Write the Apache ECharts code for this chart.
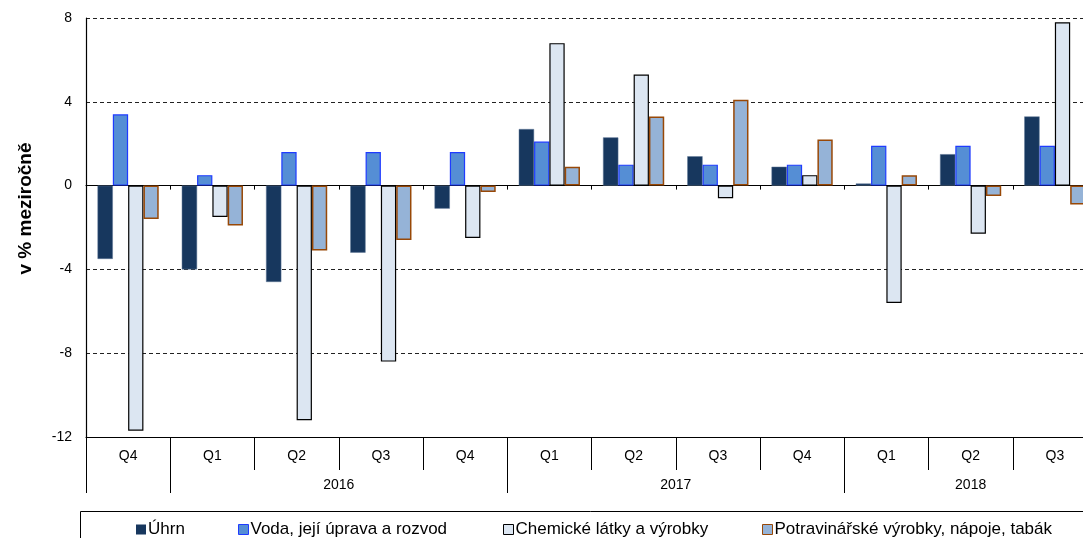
<!DOCTYPE html>
<html>
<head>
<meta charset="utf-8">
<script src="https://cdn.jsdelivr.net/npm/echarts@6/dist/echarts.min.js"></script>
<style>html,body{margin:0;padding:0;background:#fff;overflow:hidden;}#c{width:1100px;height:538px;}</style>
</head>
<body>
<div id="c"></div>
<script>
var quarters = ['Q4','Q1','Q2','Q3','Q4','Q1','Q2','Q3','Q4','Q1','Q2','Q3'];
var yearLabels = {3: '2016', 7: '2017', 10.5: '2018'};
var yearStarts = [0, 1, 5, 9];
var seriesNames = ['Úhrn', 'Voda, její úprava a rozvod', 'Chemické látky a výrobky', 'Potravinářské výrobky, nápoje, tabák'];
var uhrn = [-3.5, -4.0, -4.6, -3.2, -1.1, 2.7, 2.3, 1.4, 0.9, 0.1, 1.5, 3.3];
var voda = [3.4, 0.5, 1.6, 1.6, 1.6, 2.1, 1.0, 1.0, 1.0, 1.9, 1.9, 1.9];
var chem = [-11.7, -1.5, -11.2, -8.4, -2.5, 6.8, 5.3, -0.6, 0.5, -5.6, -2.3, 7.8];
var potr = [-1.6, -1.9, -3.1, -2.6, -0.3, 0.9, 3.3, 4.1, 2.2, 0.5, -0.5, -0.9];

var FONT = 'Liberation Sans, Arial, sans-serif';
var styles = [
  {color: '#17375E', borderColor: '#5E7796', borderWidth: 0.5},
  {color: '#558ED5', borderColor: '#1F3BFF', borderWidth: 1.2},
  {color: '#DCE6F2', borderColor: '#000000', borderWidth: 1.2},
  {color: '#95B3D7', borderColor: '#984807', borderWidth: 1.5}
];
var legendStyles = [
  {color: '#17375E', borderColor: '#17375E', borderWidth: 0},
  {color: '#558ED5', borderColor: '#1F3BFF', borderWidth: 1},
  {color: '#DCE6F2', borderColor: '#000000', borderWidth: 1},
  {color: '#95B3D7', borderColor: '#984807', borderWidth: 1}
];
var dataSets = [uhrn, voda, chem, potr];
var legendLefts = [131, 233, 498, 757];

var chart = echarts.init(document.getElementById('c'));
var option = {
  animation: false,
  textStyle: {fontFamily: FONT},
  grid: {left: 86, right: 3, top: 18, bottom: 101, containLabel: false},
  legend: seriesNames.map(function (n, i) {
    return {
      data: [n], left: legendLefts[i], top: 516, itemWidth: 10, itemHeight: 10, itemGap: 4,
      icon: 'rect', itemStyle: legendStyles[i],
      textStyle: {fontFamily: FONT, fontSize: 17, color: '#000', padding: [0, 0, 0, -3]},
      selectedMode: false
    };
  }),
  graphic: [{
    type: 'rect', shape: {x: 80.5, y: 511.5, width: 1030, height: 40},
    style: {fill: 'none', stroke: '#000', lineWidth: 1}, silent: true
  }],
  xAxis: [
    {
      type: 'category', data: quarters, position: 'bottom',
      axisLine: {show: true, onZero: true, lineStyle: {color: '#000', width: 1.2}},
      axisTick: {show: true, length: 4, lineStyle: {color: '#000'}},
      axisLabel: {show: false}, splitLine: {show: false}
    },
    {
      type: 'category', data: quarters, position: 'bottom', gridIndex: 0,
      axisLine: {show: true, onZero: false, lineStyle: {color: '#000', width: 1.2}},
      axisTick: {show: true, length: 33, interval: 0, lineStyle: {color: '#000'}},
      axisLabel: {show: true, interval: 0, margin: 12, fontSize: 14, color: '#000', fontFamily: FONT},
      splitLine: {show: false}
    },
    {
      type: 'category', data: quarters, position: 'bottom', gridIndex: 0,
      axisLine: {show: false, onZero: false},
      axisTick: {show: true, length: 56, interval: function (idx) { return yearStarts.indexOf(idx) >= 0; }, lineStyle: {color: '#000'}},
      axisLabel: {show: false}, splitLine: {show: false}
    },
    {
      type: 'value', min: 0, max: 12, interval: 0.5, position: 'bottom', gridIndex: 0,
      axisLine: {show: false, onZero: false}, axisTick: {show: false}, splitLine: {show: false},
      axisLabel: {
        show: true, margin: 41, fontSize: 14, color: '#000', fontFamily: FONT,
        showMinLabel: true, showMaxLabel: true,
        formatter: function (v) { return yearLabels[v] || ''; }
      }
    }
  ],
  yAxis: {
    type: 'value', min: -12, max: 8, interval: 4,
    name: 'v % meziročně', nameLocation: 'middle', nameGap: 51,
    nameTextStyle: {fontFamily: FONT, fontSize: 19, fontWeight: 'bold', color: '#000', padding: [0, 0, 0, 38]},
    axisLine: {show: true, lineStyle: {color: '#000', width: 1.2}},
    axisTick: {show: false},
    axisLabel: {fontSize: 14, color: '#000', margin: 14, fontFamily: FONT},
    splitLine: {show: true, lineStyle: {color: '#222', type: [4, 3], width: 1}}
  },
  series: seriesNames.map(function (n, i) {
    return {
      name: n, type: 'bar', xAxisIndex: 0, data: dataSets[i],
      barWidth: 15.3, barGap: '0%', itemStyle: styles[i]
    };
  })
};
chart.setOption(option);
</script>
</body>
</html>
